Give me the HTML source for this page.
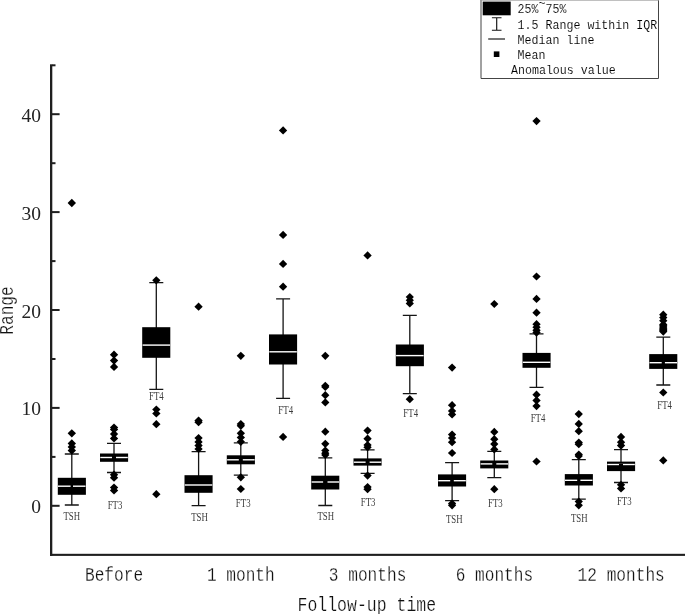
<!DOCTYPE html>
<html><head><meta charset="utf-8"><title>Box plot</title>
<style>
html,body{margin:0;padding:0;background:#fff}
body{width:685px;height:614px;overflow:hidden}
svg{display:block}

svg{will-change:transform}
text{font-family:"Liberation Mono",monospace;fill:#111;stroke:#fff;stroke-width:0.2px}
.yt{font-family:"Liberation Serif",serif;font-size:19.5px;stroke:none;fill:#222}
.xl{font-size:16.15px}
.ti{font-size:16.5px}
.sl{font-family:"Liberation Serif",serif;font-size:11.6px;fill:#3c3c3c;stroke:none}
.lg{font-size:11.65px;stroke-width:0.1px;fill:#000}

</style></head><body>
<svg width="685" height="614" viewBox="0 0 685 614">
<rect width="685" height="614" fill="#fff"/>
<g fill="#1f1f1f">
<rect x="50" y="64.3" width="2.3" height="491.6"/>
<rect x="50" y="553.8" width="635" height="2.1"/>
<rect x="52" y="504.8" width="7.6" height="2"/>
<rect x="52" y="455.9" width="3.5" height="2"/>
<rect x="52" y="406.9" width="7.6" height="2"/>
<rect x="52" y="358.0" width="3.5" height="2"/>
<rect x="52" y="309.0" width="7.6" height="2"/>
<rect x="52" y="260.1" width="3.5" height="2"/>
<rect x="52" y="211.1" width="7.6" height="2"/>
<rect x="52" y="162.2" width="3.5" height="2"/>
<rect x="52" y="113.2" width="7.6" height="2"/>
<rect x="52" y="64.3" width="3.5" height="2"/>
</g>
<g>
<path d="M71.8 454.0V505.0M64.8 454.0H78.8M64.8 505.0H78.8" stroke="#151515" stroke-width="1.3" fill="none"/>
<rect x="57.8" y="477.8" width="28.1" height="17.0" fill="#000"/>
<rect x="58.0" y="485.50" width="27.5" height="1.4" fill="#fff"/>
<rect x="70.6" y="484.7" width="2.4" height="3.8" fill="#000"/>
</g>
<g>
<path d="M114.0 443.3V472.5M107.0 443.3H121.0M107.0 472.5H121.0" stroke="#151515" stroke-width="1.3" fill="none"/>
<rect x="100.0" y="453.5" width="28.1" height="8.3" fill="#000"/>
<rect x="100.3" y="456.80" width="27.5" height="1.4" fill="#fff"/>
<rect x="112.0" y="455.6" width="4.0" height="3.8" fill="#000"/>
</g>
<g>
<path d="M156.3 282.6V389.3M149.3 282.6H163.3M149.3 389.3H163.3" stroke="#151515" stroke-width="1.3" fill="none"/>
<rect x="142.2" y="327.2" width="28.1" height="30.6" fill="#000"/>
<rect x="142.6" y="344.40" width="27.5" height="1.4" fill="#fff"/>
</g>
<g>
<path d="M198.6 451.7V505.7M191.6 451.7H205.6M191.6 505.7H205.6" stroke="#151515" stroke-width="1.3" fill="none"/>
<rect x="184.5" y="475.2" width="28.1" height="17.6" fill="#000"/>
<rect x="184.8" y="484.30" width="27.5" height="1.4" fill="#fff"/>
</g>
<g>
<path d="M240.8 442.9V475.2M233.8 442.9H247.8M233.8 475.2H247.8" stroke="#151515" stroke-width="1.3" fill="none"/>
<rect x="226.8" y="455.3" width="28.1" height="9.0" fill="#000"/>
<rect x="227.1" y="459.10" width="27.5" height="1.4" fill="#fff"/>
<rect x="238.8" y="457.9" width="4.0" height="3.8" fill="#000"/>
</g>
<g>
<path d="M283.1 298.9V398.3M276.1 298.9H290.1M276.1 398.3H290.1" stroke="#151515" stroke-width="1.3" fill="none"/>
<rect x="269.0" y="334.4" width="28.1" height="30.1" fill="#000"/>
<rect x="269.3" y="351.10" width="27.5" height="1.4" fill="#fff"/>
</g>
<g>
<path d="M325.3 457.8V505.5M318.3 457.8H332.3M318.3 505.5H332.3" stroke="#151515" stroke-width="1.3" fill="none"/>
<rect x="311.2" y="475.7" width="28.1" height="13.8" fill="#000"/>
<rect x="311.6" y="481.30" width="27.5" height="1.4" fill="#fff"/>
<rect x="323.1" y="480.1" width="4.4" height="3.8" fill="#000"/>
</g>
<g>
<path d="M367.6 449.8V473.3M360.6 449.8H374.6M360.6 473.3H374.6" stroke="#151515" stroke-width="1.3" fill="none"/>
<rect x="353.5" y="458.4" width="28.1" height="7.2" fill="#000"/>
<rect x="353.8" y="461.50" width="27.5" height="1.4" fill="#fff"/>
<rect x="365.6" y="460.3" width="4.0" height="3.8" fill="#000"/>
</g>
<g>
<path d="M409.8 315.4V393.7M402.8 315.4H416.8M402.8 393.7H416.8" stroke="#151515" stroke-width="1.3" fill="none"/>
<rect x="395.8" y="344.5" width="28.1" height="21.7" fill="#000"/>
<rect x="396.1" y="354.90" width="27.5" height="1.4" fill="#fff"/>
</g>
<g>
<path d="M452.1 462.6V500.6M445.1 462.6H459.1M445.1 500.6H459.1" stroke="#151515" stroke-width="1.3" fill="none"/>
<rect x="438.0" y="474.4" width="28.1" height="12.1" fill="#000"/>
<rect x="438.3" y="480.00" width="27.5" height="1.4" fill="#fff"/>
<rect x="450.2" y="478.8" width="3.6" height="3.8" fill="#000"/>
</g>
<g>
<path d="M494.3 451.4V477.7M487.3 451.4H501.3M487.3 477.7H501.3" stroke="#151515" stroke-width="1.3" fill="none"/>
<rect x="480.2" y="460.5" width="28.1" height="7.9" fill="#000"/>
<rect x="480.6" y="463.20" width="27.5" height="1.4" fill="#fff"/>
<rect x="492.3" y="462.0" width="4.0" height="3.8" fill="#000"/>
</g>
<g>
<path d="M536.5 333.8V387.4M529.5 333.8H543.5M529.5 387.4H543.5" stroke="#151515" stroke-width="1.3" fill="none"/>
<rect x="522.5" y="352.9" width="28.1" height="14.9" fill="#000"/>
<rect x="522.8" y="361.60" width="27.5" height="1.4" fill="#fff"/>
</g>
<g>
<path d="M578.8 459.7V499.2M571.8 459.7H585.8M571.8 499.2H585.8" stroke="#151515" stroke-width="1.3" fill="none"/>
<rect x="564.8" y="474.1" width="28.1" height="11.4" fill="#000"/>
<rect x="565.0" y="479.60" width="27.5" height="1.4" fill="#fff"/>
<rect x="577.2" y="478.4" width="3.2" height="3.8" fill="#000"/>
</g>
<g>
<path d="M621.0 449.7V482.5M614.0 449.7H628.0M614.0 482.5H628.0" stroke="#151515" stroke-width="1.3" fill="none"/>
<rect x="607.0" y="461.6" width="28.1" height="9.5" fill="#000"/>
<rect x="607.3" y="463.80" width="27.5" height="1.4" fill="#fff"/>
<rect x="619.0" y="463.9" width="4.0" height="3.8" fill="#000"/>
</g>
<g>
<path d="M663.3 337.1V385.0M656.3 337.1H670.3M656.3 385.0H670.3" stroke="#151515" stroke-width="1.3" fill="none"/>
<rect x="649.2" y="354.1" width="28.1" height="14.8" fill="#000"/>
<rect x="649.5" y="362.00" width="27.5" height="1.4" fill="#fff"/>
<rect x="661.7" y="360.8" width="3.2" height="3.8" fill="#000"/>
</g>
<g fill="#000">
<path d="M71.8 198.8L76.0 203.0L71.8 207.2L67.6 203.0Z"/>
<path d="M71.8 429.2L76.0 433.3L71.8 437.4L67.6 433.3Z"/>
<path d="M71.8 439.2L76.0 443.4L71.8 447.5L67.6 443.4Z"/>
<path d="M71.8 442.8L76.0 446.9L71.8 451.0L67.6 446.9Z"/>
<path d="M71.8 446.5L76.0 450.6L71.8 454.8L67.6 450.6Z"/>
<path d="M114.0 350.6L118.2 354.7L114.0 358.8L109.9 354.7Z"/>
<path d="M114.0 356.5L118.2 360.6L114.0 364.8L109.9 360.6Z"/>
<path d="M114.0 362.8L118.2 366.9L114.0 371.0L109.9 366.9Z"/>
<path d="M114.0 423.4L118.2 427.5L114.0 431.6L109.9 427.5Z"/>
<path d="M114.0 425.4L118.2 429.5L114.0 433.6L109.9 429.5Z"/>
<path d="M114.0 429.9L118.2 434.0L114.0 438.1L109.9 434.0Z"/>
<path d="M114.0 434.2L118.2 438.4L114.0 442.5L109.9 438.4Z"/>
<path d="M114.0 470.6L118.2 474.7L114.0 478.8L109.9 474.7Z"/>
<path d="M114.0 473.6L118.2 477.7L114.0 481.8L109.9 477.7Z"/>
<path d="M114.0 483.4L118.2 487.5L114.0 491.6L109.9 487.5Z"/>
<path d="M114.0 486.4L118.2 490.5L114.0 494.6L109.9 490.5Z"/>
<path d="M156.3 276.2L160.5 280.3L156.3 284.4L152.2 280.3Z"/>
<path d="M156.3 405.4L160.5 409.5L156.3 413.6L152.2 409.5Z"/>
<path d="M156.3 409.4L160.5 413.5L156.3 417.6L152.2 413.5Z"/>
<path d="M156.3 420.1L160.5 424.2L156.3 428.3L152.2 424.2Z"/>
<path d="M156.3 490.1L160.5 494.2L156.3 498.3L152.2 494.2Z"/>
<path d="M198.6 302.6L202.7 306.7L198.6 310.8L194.4 306.7Z"/>
<path d="M198.6 416.5L202.7 420.6L198.6 424.8L194.4 420.6Z"/>
<path d="M198.6 418.1L202.7 422.2L198.6 426.3L194.4 422.2Z"/>
<path d="M198.6 433.9L202.7 438.0L198.6 442.1L194.4 438.0Z"/>
<path d="M198.6 437.8L202.7 441.9L198.6 446.0L194.4 441.9Z"/>
<path d="M198.6 441.5L202.7 445.6L198.6 449.8L194.4 445.6Z"/>
<path d="M198.6 444.9L202.7 449.0L198.6 453.1L194.4 449.0Z"/>
<path d="M240.8 351.7L245.0 355.8L240.8 359.9L236.7 355.8Z"/>
<path d="M240.8 419.9L245.0 424.0L240.8 428.1L236.7 424.0Z"/>
<path d="M240.8 421.7L245.0 425.8L240.8 429.9L236.7 425.8Z"/>
<path d="M240.8 429.2L245.0 433.3L240.8 437.4L236.7 433.3Z"/>
<path d="M240.8 433.4L245.0 437.5L240.8 441.6L236.7 437.5Z"/>
<path d="M240.8 437.7L245.0 441.8L240.8 445.9L236.7 441.8Z"/>
<path d="M240.8 473.2L245.0 477.3L240.8 481.4L236.7 477.3Z"/>
<path d="M240.8 484.9L245.0 489.0L240.8 493.1L236.7 489.0Z"/>
<path d="M283.1 126.2L287.2 130.4L283.1 134.6L278.9 130.4Z"/>
<path d="M283.1 230.8L287.2 234.9L283.1 239.1L278.9 234.9Z"/>
<path d="M283.1 259.8L287.2 263.9L283.1 268.0L278.9 263.9Z"/>
<path d="M283.1 282.6L287.2 286.7L283.1 290.8L278.9 286.7Z"/>
<path d="M283.1 432.8L287.2 436.9L283.1 441.0L278.9 436.9Z"/>
<path d="M325.3 351.7L329.4 355.8L325.3 359.9L321.2 355.8Z"/>
<path d="M325.3 381.7L329.4 385.8L325.3 389.9L321.2 385.8Z"/>
<path d="M325.3 382.9L329.4 387.0L325.3 391.1L321.2 387.0Z"/>
<path d="M325.3 391.1L329.4 395.2L325.3 399.3L321.2 395.2Z"/>
<path d="M325.3 398.2L329.4 402.4L325.3 406.5L321.2 402.4Z"/>
<path d="M325.3 427.6L329.4 431.7L325.3 435.8L321.2 431.7Z"/>
<path d="M325.3 439.7L329.4 443.8L325.3 447.9L321.2 443.8Z"/>
<path d="M325.3 446.4L329.4 450.5L325.3 454.6L321.2 450.5Z"/>
<path d="M325.3 449.1L329.4 453.2L325.3 457.3L321.2 453.2Z"/>
<path d="M325.3 450.9L329.4 455.0L325.3 459.1L321.2 455.0Z"/>
<path d="M367.6 251.2L371.7 255.4L367.6 259.6L363.4 255.4Z"/>
<path d="M367.6 426.5L371.7 430.6L367.6 434.8L363.4 430.6Z"/>
<path d="M367.6 434.6L371.7 438.7L367.6 442.8L363.4 438.7Z"/>
<path d="M367.6 440.9L371.7 445.0L367.6 449.1L363.4 445.0Z"/>
<path d="M367.6 443.2L371.7 447.3L367.6 451.4L363.4 447.3Z"/>
<path d="M367.6 471.5L371.7 475.6L367.6 479.8L363.4 475.6Z"/>
<path d="M367.6 482.9L371.7 487.0L367.6 491.1L363.4 487.0Z"/>
<path d="M367.6 485.1L371.7 489.2L367.6 493.3L363.4 489.2Z"/>
<path d="M409.8 292.9L413.9 297.0L409.8 301.1L405.7 297.0Z"/>
<path d="M409.8 296.2L413.9 300.3L409.8 304.4L405.7 300.3Z"/>
<path d="M409.8 299.2L413.9 303.4L409.8 307.5L405.7 303.4Z"/>
<path d="M409.8 395.1L413.9 399.2L409.8 403.3L405.7 399.2Z"/>
<path d="M452.1 363.5L456.2 367.6L452.1 371.8L447.9 367.6Z"/>
<path d="M452.1 401.1L456.2 405.2L452.1 409.3L447.9 405.2Z"/>
<path d="M452.1 406.8L456.2 410.9L452.1 415.0L447.9 410.9Z"/>
<path d="M452.1 410.4L456.2 414.5L452.1 418.6L447.9 414.5Z"/>
<path d="M452.1 430.5L456.2 434.6L452.1 438.8L447.9 434.6Z"/>
<path d="M452.1 433.9L456.2 438.0L452.1 442.1L447.9 438.0Z"/>
<path d="M452.1 438.1L456.2 442.2L452.1 446.3L447.9 442.2Z"/>
<path d="M452.1 448.9L456.2 453.0L452.1 457.1L447.9 453.0Z"/>
<path d="M452.1 499.4L456.2 503.5L452.1 507.6L447.9 503.5Z"/>
<path d="M452.1 501.2L456.2 505.3L452.1 509.4L447.9 505.3Z"/>
<path d="M494.3 299.9L498.4 304.0L494.3 308.1L490.2 304.0Z"/>
<path d="M494.3 427.8L498.4 431.9L494.3 436.0L490.2 431.9Z"/>
<path d="M494.3 435.1L498.4 439.2L494.3 443.3L490.2 439.2Z"/>
<path d="M494.3 440.0L498.4 444.1L494.3 448.2L490.2 444.1Z"/>
<path d="M494.3 445.2L498.4 449.4L494.3 453.5L490.2 449.4Z"/>
<path d="M494.3 485.1L498.4 489.2L494.3 493.3L490.2 489.2Z"/>
<path d="M536.5 116.9L540.7 121.1L536.5 125.2L532.4 121.1Z"/>
<path d="M536.5 272.4L540.7 276.5L536.5 280.6L532.4 276.5Z"/>
<path d="M536.5 294.8L540.7 298.9L536.5 303.0L532.4 298.9Z"/>
<path d="M536.5 308.6L540.7 312.7L536.5 316.8L532.4 312.7Z"/>
<path d="M536.5 320.1L540.7 324.2L536.5 328.3L532.4 324.2Z"/>
<path d="M536.5 323.1L540.7 327.2L536.5 331.3L532.4 327.2Z"/>
<path d="M536.5 326.2L540.7 330.3L536.5 334.4L532.4 330.3Z"/>
<path d="M536.5 328.5L540.7 332.6L536.5 336.8L532.4 332.6Z"/>
<path d="M536.5 390.6L540.7 394.7L536.5 398.8L532.4 394.7Z"/>
<path d="M536.5 396.2L540.7 400.4L536.5 404.5L532.4 400.4Z"/>
<path d="M536.5 402.0L540.7 406.1L536.5 410.2L532.4 406.1Z"/>
<path d="M536.5 457.4L540.7 461.5L536.5 465.6L532.4 461.5Z"/>
<path d="M578.8 410.0L582.9 414.1L578.8 418.2L574.6 414.1Z"/>
<path d="M578.8 419.8L582.9 423.9L578.8 428.0L574.6 423.9Z"/>
<path d="M578.8 427.1L582.9 431.2L578.8 435.3L574.6 431.2Z"/>
<path d="M578.8 438.5L582.9 442.6L578.8 446.8L574.6 442.6Z"/>
<path d="M578.8 440.1L582.9 444.2L578.8 448.3L574.6 444.2Z"/>
<path d="M578.8 450.4L582.9 454.5L578.8 458.6L574.6 454.5Z"/>
<path d="M578.8 451.9L582.9 456.0L578.8 460.1L574.6 456.0Z"/>
<path d="M578.8 497.4L582.9 501.5L578.8 505.6L574.6 501.5Z"/>
<path d="M578.8 501.2L582.9 505.3L578.8 509.4L574.6 505.3Z"/>
<path d="M621.0 432.8L625.2 436.9L621.0 441.0L616.9 436.9Z"/>
<path d="M621.0 438.1L625.2 442.2L621.0 446.3L616.9 442.2Z"/>
<path d="M621.0 441.5L625.2 445.6L621.0 449.8L616.9 445.6Z"/>
<path d="M621.0 480.7L625.2 484.8L621.0 488.9L616.9 484.8Z"/>
<path d="M621.0 484.4L625.2 488.5L621.0 492.6L616.9 488.5Z"/>
<path d="M663.3 310.6L667.4 314.7L663.3 318.8L659.1 314.7Z"/>
<path d="M663.3 313.5L667.4 317.6L663.3 321.8L659.1 317.6Z"/>
<path d="M663.3 316.6L667.4 320.7L663.3 324.8L659.1 320.7Z"/>
<path d="M663.3 320.5L667.4 324.6L663.3 328.8L659.1 324.6Z"/>
<path d="M663.3 321.7L667.4 325.8L663.3 329.9L659.1 325.8Z"/>
<path d="M663.3 322.9L667.4 327.0L663.3 331.1L659.1 327.0Z"/>
<path d="M663.3 324.1L667.4 328.2L663.3 332.3L659.1 328.2Z"/>
<path d="M663.3 325.2L667.4 329.4L663.3 333.5L659.1 329.4Z"/>
<path d="M663.3 326.5L667.4 330.6L663.3 334.8L659.1 330.6Z"/>
<path d="M663.3 327.5L667.4 331.6L663.3 335.8L659.1 331.6Z"/>
<path d="M663.3 388.4L667.4 392.5L663.3 396.6L659.1 392.5Z"/>
<path d="M663.3 456.2L667.4 460.4L663.3 464.5L659.1 460.4Z"/>
</g>
<path d="M481 0V78.5H658.5V0" fill="none" stroke="#444" stroke-width="1"/>
<path d="M480.5 0.2H659" fill="none" stroke="#9a9a9a" stroke-width="0.9"/>
<rect x="482.7" y="1.6" width="28" height="13.7" fill="#000"/>
<path d="M496.7 17.7V30.2M491.9 17.7H501.5M491.9 30.2H501.5" stroke="#111" stroke-width="1.15" fill="none"/>
<path d="M488.2 39H505" stroke="#111" stroke-width="1.15"/>
<rect x="493.8" y="51.4" width="5.6" height="5.6" fill="#000"/>
<text class="yt" transform="translate(41.00,513.30)" text-anchor="end">0</text>
<text class="yt" transform="translate(41.00,415.40)" text-anchor="end">10</text>
<text class="yt" transform="translate(41.00,317.50)" text-anchor="end">20</text>
<text class="yt" transform="translate(41.00,219.60)" text-anchor="end">30</text>
<text class="yt" transform="translate(41.00,121.70)" text-anchor="end">40</text>
<text class="sl" transform="translate(71.80,520.40) scale(0.76,1.0)" text-anchor="middle">TSH</text>
<text class="sl" transform="translate(115.00,509.30) scale(0.76,1.0)" text-anchor="middle">FT3</text>
<text class="sl" transform="translate(156.40,400.40) scale(0.76,1.0)" text-anchor="middle">FT4</text>
<text class="sl" transform="translate(199.50,520.60) scale(0.76,1.0)" text-anchor="middle">TSH</text>
<text class="sl" transform="translate(243.20,506.60) scale(0.76,1.0)" text-anchor="middle">FT3</text>
<text class="sl" transform="translate(285.70,414.40) scale(0.76,1.0)" text-anchor="middle">FT4</text>
<text class="sl" transform="translate(325.80,520.20) scale(0.76,1.0)" text-anchor="middle">TSH</text>
<text class="sl" transform="translate(368.10,506.10) scale(0.76,1.0)" text-anchor="middle">FT3</text>
<text class="sl" transform="translate(410.70,417.00) scale(0.76,1.0)" text-anchor="middle">FT4</text>
<text class="sl" transform="translate(454.20,523.00) scale(0.76,1.0)" text-anchor="middle">TSH</text>
<text class="sl" transform="translate(495.40,507.00) scale(0.76,1.0)" text-anchor="middle">FT3</text>
<text class="sl" transform="translate(538.00,422.30) scale(0.76,1.0)" text-anchor="middle">FT4</text>
<text class="sl" transform="translate(579.20,522.20) scale(0.76,1.0)" text-anchor="middle">TSH</text>
<text class="sl" transform="translate(624.30,505.10) scale(0.76,1.0)" text-anchor="middle">FT3</text>
<text class="sl" transform="translate(664.60,408.90) scale(0.76,1.0)" text-anchor="middle">FT4</text>
<text class="xl" transform="translate(114.00,581.00) scale(1.0,1.26)" text-anchor="middle">Before</text>
<text class="xl" transform="translate(240.80,581.00) scale(1.0,1.26)" text-anchor="middle">1 month</text>
<text class="xl" transform="translate(367.60,581.00) scale(1.0,1.26)" text-anchor="middle">3 months</text>
<text class="xl" transform="translate(494.40,581.00) scale(1.0,1.26)" text-anchor="middle">6 months</text>
<text class="xl" transform="translate(621.20,581.00) scale(1.0,1.26)" text-anchor="middle">12 months</text>
<text class="ti" transform="translate(366.80,611.20) scale(1.0,1.2)" text-anchor="middle">Follow-up time</text>
<text class="xl" transform="translate(13.20,310.50) rotate(-90) scale(1.0,1.22)" text-anchor="middle">Range</text>
<text class="lg" transform="translate(517.60,13.10) scale(1.0,1.17)" text-anchor="start">25%<tspan dy="-5.2">~</tspan><tspan dy="5.2">75%</tspan></text>
<text class="lg" transform="translate(517.60,28.90) scale(1.0,1.17)" text-anchor="start">1.5 Range within IQR</text>
<text class="lg" transform="translate(517.60,43.90) scale(1.0,1.17)" text-anchor="start">Median line</text>
<text class="lg" transform="translate(517.60,59.30) scale(1.0,1.17)" text-anchor="start">Mean</text>
<text class="lg" transform="translate(511.00,74.20) scale(1.0,1.17)" text-anchor="start">Anomalous value</text>
</svg>
</body></html>
